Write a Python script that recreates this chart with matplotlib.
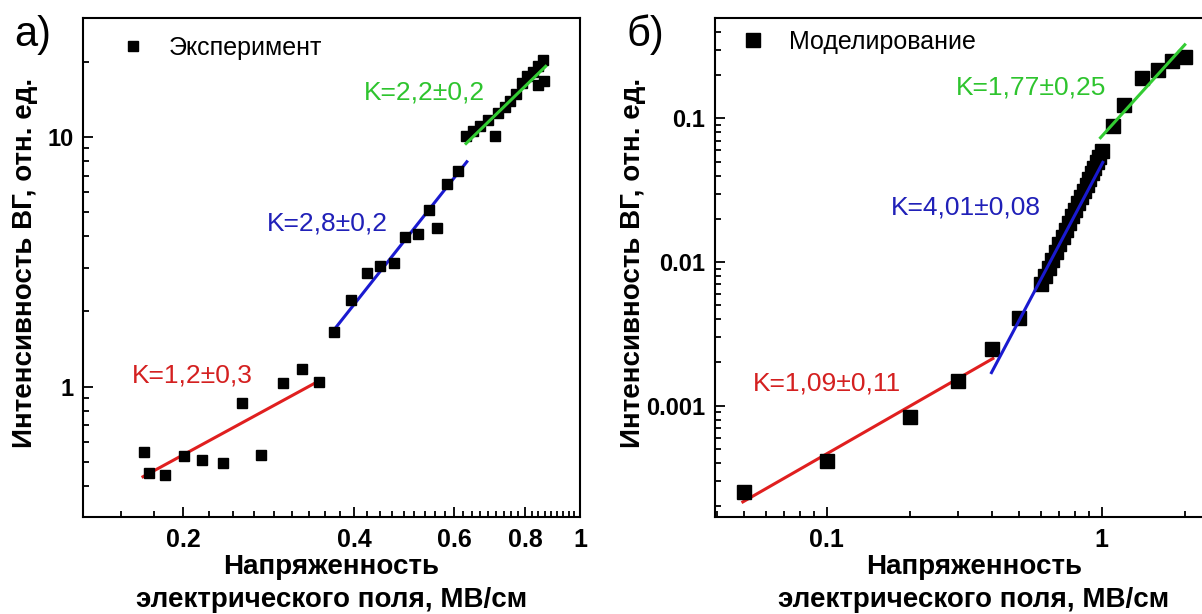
import numpy as np
import matplotlib
matplotlib.use("Agg")
import matplotlib.pyplot as plt
from matplotlib.ticker import FixedLocator, FixedFormatter, LogLocator, NullFormatter

plt.rcParams['font.family'] = ['Liberation Sans', 'DejaVu Sans']

# --- panel a: experiment ---
exp_x = [0.171, 0.174, 0.186, 0.201, 0.216, 0.235, 0.254, 0.274, 0.300, 0.324, 0.347,
         0.369, 0.395, 0.422, 0.444, 0.470, 0.492, 0.519, 0.542, 0.560, 0.583, 0.610,
         0.630, 0.648, 0.667, 0.689, 0.708, 0.717, 0.738, 0.753, 0.772, 0.791, 0.806,
         0.826, 0.843, 0.861, 0.863, 0.843]
exp_y = [0.549, 0.452, 0.443, 0.529, 0.510, 0.496, 0.863, 0.534, 1.03, 1.18, 1.047,
         1.65, 2.23, 2.84, 3.03, 3.14, 3.99, 4.07, 5.12, 4.30, 6.51, 7.34,
         10.1, 10.6, 11.1, 11.75, 10.1, 12.5, 13.2, 14.0, 14.9, 16.4, 17.5,
         18.3, 19.3, 20.3, 16.7, 16.1]

# fit segments (endpoints)
exp_fit_red_x = [0.170, 0.348]
exp_fit_red_y = [0.435, 1.057]
exp_fit_blue_x = [0.369, 0.632]
exp_fit_blue_y = [1.69, 7.96]
exp_fit_green_x = [0.630, 0.870]
exp_fit_green_y = [9.42, 19.2]

# --- panel b: simulation ---
sim_x = [0.05, 0.1, 0.2, 0.3, 0.4, 0.5,
         0.60, 0.62, 0.64, 0.66, 0.68, 0.70, 0.72, 0.74, 0.76, 0.78, 0.80,
         0.82, 0.84, 0.86, 0.88, 0.90, 0.92, 0.94, 0.96, 0.98, 1.00,
         1.1, 1.2, 1.4, 1.6, 1.8, 2.0]
sim_y = [0.00025, 0.00041, 0.00084, 0.00149, 0.0025, 0.0041,
         0.0070, 0.0080, 0.0091, 0.0104, 0.0118, 0.0133, 0.0149, 0.0167, 0.0187, 0.0209, 0.0232,
         0.0257, 0.0284, 0.0314, 0.0346, 0.0380, 0.0416, 0.0455, 0.0497, 0.0542, 0.0590,
         0.089, 0.123, 0.190, 0.219, 0.249, 0.266]

sim_fit_red_x = [0.0495, 0.4016]
sim_fit_red_y = [0.000214, 0.00213]
sim_fit_blue_x = [0.397, 1.008]
sim_fit_blue_y = [0.0017, 0.0494]
sim_fit_green_x = [0.989, 2.003]
sim_fit_green_y = [0.0734, 0.3256]

RED = '#e01f1f'
BLUE = '#1a1ad0'
GREEN = '#33cc33'
RED_T = '#d42020'
BLUE_T = '#2020b8'
GREEN_T = '#2ec42e'

fig = plt.figure(figsize=(12.02, 6.14), dpi=100)
ax1 = fig.add_axes([83 / 1202, 97 / 614, 497 / 1202, 499 / 614])
ax2 = fig.add_axes([715 / 1202, 97 / 614, 518 / 1202, 499 / 614])


def style_axis(ax):
    for s in ax.spines.values():
        s.set_linewidth(1.5)
    ax.tick_params(which='both', direction='in', top=False, right=False, width=1.3)
    ax.tick_params(which='major', length=7, pad=8)
    ax.tick_params(axis='x', which='major', labelsize=18)
    ax.tick_params(axis='y', which='major', labelsize=17, pad=7)
    ax.tick_params(which='minor', length=4)
    for lab in ax.get_xticklabels() + ax.get_yticklabels():
        lab.set_fontweight('bold')


xlabel = 'Напряженность\nэлектрического поля, МВ/см'
ylabel = 'Интенсивность ВГ, отн. ед.'

# panel a
ax1.set_xscale('log')
ax1.set_yscale('log')
ax1.plot(exp_fit_red_x, exp_fit_red_y, color=RED, lw=2.2)
ax1.plot(exp_fit_blue_x, exp_fit_blue_y, color=BLUE, lw=2.2)
ax1.plot(exp_fit_green_x, exp_fit_green_y, color=GREEN, lw=2.2, zorder=4)
ax1.plot(exp_x, exp_y, 's', color='black', ms=7.5, ls='none', label='Эксперимент', zorder=3)
ax1.set_xlim(0.1333, 1.0)
ax1.set_ylim(0.3, 30)
maj = [0.2, 0.4, 0.6, 0.8, 1.0]
ax1.xaxis.set_major_locator(FixedLocator(maj))
ax1.xaxis.set_major_formatter(FixedFormatter(['0.2', '0.4', '0.6', '0.8', '1']))
minor = [a + k * 0.2 / 9 for a in (0.0, 0.2, 0.4, 0.6, 0.8) for k in range(1, 9)]
ax1.xaxis.set_minor_locator(FixedLocator([m for m in minor if m > 0.1333]))
ax1.xaxis.set_minor_formatter(NullFormatter())
ax1.yaxis.set_major_locator(FixedLocator([1, 10]))
ax1.yaxis.set_major_formatter(FixedFormatter(['1', '10']))
ax1.yaxis.set_minor_locator(LogLocator(base=10, subs=np.arange(2, 10)))
ax1.yaxis.set_minor_formatter(NullFormatter())
style_axis(ax1)
ax1.set_xlabel(xlabel, fontsize=20, fontweight='bold', linespacing=1.33)
ax1.xaxis.set_label_coords(0.5, -0.074)
ax1.set_ylabel(ylabel, fontsize=20, fontweight='bold')
ax1.yaxis.set_label_coords(-0.090, 0.51)
ax1.legend(loc='upper left', bbox_to_anchor=(0.016, 1.0), frameon=False, fontsize=18,
           handletextpad=0.4, borderaxespad=0.3)
ax1.text(0.688, 0.850, 'K=2,2±0,2', color=GREEN_T, fontsize=19, transform=ax1.transAxes,
         ha='center', va='center')
ax1.text(0.491, 0.589, 'K=2,8±0,2', color=BLUE_T, fontsize=19, transform=ax1.transAxes,
         ha='center', va='center')
ax1.text(0.219, 0.283, 'K=1,2±0,3', color=RED_T, fontsize=19, transform=ax1.transAxes,
         ha='center', va='center')

# panel b
ax2.set_xscale('log')
ax2.set_yscale('log')
ax2.plot(sim_fit_red_x, sim_fit_red_y, color=RED, lw=2.2)
ax2.plot(sim_fit_blue_x, sim_fit_blue_y, color=BLUE, lw=2.2, zorder=4)
ax2.plot(sim_fit_green_x, sim_fit_green_y, color=GREEN, lw=2.2, zorder=4)
ax2.plot(sim_x, sim_y, 's', color='black', ms=9.5, ls='none', label='Моделирование', zorder=3)
ax2.set_xlim(0.0392, 3.0)
ax2.set_ylim(0.000168, 0.5)
ax2.xaxis.set_major_locator(FixedLocator([0.1, 1]))
ax2.xaxis.set_major_formatter(FixedFormatter(['0.1', '1']))
ax2.xaxis.set_minor_locator(LogLocator(base=10, subs=np.arange(2, 10)))
ax2.xaxis.set_minor_formatter(NullFormatter())
ax2.yaxis.set_major_locator(FixedLocator([0.001, 0.01, 0.1]))
ax2.yaxis.set_major_formatter(FixedFormatter(['0.001', '0.01', '0.1']))
ax2.yaxis.set_minor_locator(LogLocator(base=10, subs=np.arange(2, 10)))
ax2.yaxis.set_minor_formatter(NullFormatter())
style_axis(ax2)
ax2.set_xlabel(xlabel, fontsize=20, fontweight='bold', linespacing=1.33)
ax2.xaxis.set_label_coords(0.5, -0.074)
ax2.set_ylabel(ylabel, fontsize=20, fontweight='bold')
ax2.yaxis.set_label_coords(-0.133, 0.51)
ax2.legend(loc='upper left', bbox_to_anchor=(-0.009, 1.012), frameon=False, fontsize=18,
           handletextpad=0.45, borderaxespad=0.3)
ax2.text(0.610, 0.860, 'K=1,77±0,25', color=GREEN_T, fontsize=19, transform=ax2.transAxes,
         ha='center', va='center')
ax2.text(0.485, 0.621, 'K=4,01±0,08', color=BLUE_T, fontsize=19, transform=ax2.transAxes,
         ha='center', va='center')
ax2.text(0.216, 0.267, 'K=1,09±0,11', color=RED_T, fontsize=19, transform=ax2.transAxes,
         ha='center', va='center')

fig.text(33 / 1202, 1 - 35 / 614, 'а)', fontsize=30, ha='center', va='center')
fig.text(645 / 1202, 1 - 35 / 614, 'б)', fontsize=30, ha='center', va='center')

fig.savefig('out.png', dpi=100)
